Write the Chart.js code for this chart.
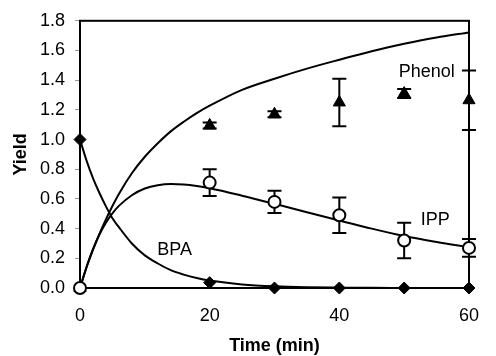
<!DOCTYPE html>
<html>
<head>
<meta charset="utf-8">
<script src="https://cdn.jsdelivr.net/npm/chart.js@4.4.0/dist/chart.umd.min.js"></script>
<style>
  html, body { margin: 0; padding: 0; background: #fff; }
  #wrap { width: 496px; height: 356px; }
</style>
</head>
<body>
<div id="wrap"><canvas id="c" width="496" height="356"></canvas></div>
<script>
// measured points
const timePts = [0, 20, 30, 40, 50, 60];
const bpaPts = [1.0, 0.036, 0.0, 0.0, 0.0, 0.0];
const ippPts = [0.0, 0.71, 0.58, 0.49, 0.32, 0.27];
const ippErr = [0, 0.09, 0.075, 0.12, 0.12, 0.06];
const phenolTime = [0, 20, 30, 40, 50, 60];
const phenolPts = [0.0, 1.095, 1.17, 1.25, 1.31, 1.265];
const phenolErr = [0, 0.02, 0.02, 0.16, 0.03, 0.2];

// fitted curves
const fitTime = [0, 1, 2, 3, 4, 5, 6, 8, 10, 12, 14, 16, 18, 20, 25, 30, 35, 40, 45, 50, 55, 60];
const bpaFit = [1.0, 0.86, 0.74, 0.64, 0.55, 0.47, 0.41, 0.30, 0.22, 0.165, 0.12, 0.09, 0.067, 0.05, 0.024, 0.011, 0.005, 0.0025, 0.001, 0.0005, 0, 0];
const ippFit = [0, 0.14, 0.262, 0.36, 0.44, 0.503, 0.553, 0.625, 0.67, 0.692, 0.70, 0.697, 0.687, 0.672, 0.622, 0.567, 0.51, 0.455, 0.40, 0.35, 0.31, 0.275];
const phenolFit = [0, 0.139, 0.256, 0.365, 0.462, 0.552, 0.634, 0.773, 0.884, 0.975, 1.055, 1.12, 1.178, 1.228, 1.335, 1.41, 1.478, 1.538, 1.595, 1.645, 1.688, 1.722];

const yTicks = [0, 0.2, 0.4, 0.6, 0.8, 1.0, 1.2, 1.4, 1.6, 1.8];
const xTicks = [0, 20, 40, 60];

const curveLabels = [
  { text: 'Phenol', x: 53.5, y: 1.457 },
  { text: 'IPP', x: 54.8, y: 0.457 },
  { text: 'BPA', x: 14.6, y: 0.255 }
];

function pts(xs, ys) {
  return xs.map((x, i) => ({ x: x, y: ys[i] }));
}

const FONT = 'Liberation Sans, Arial, Helvetica, sans-serif';

const extras = {
  id: 'extras',
  beforeDatasetsDraw(chart) {
    const ctx = chart.ctx;
    const a = chart.chartArea;
    const xs = chart.scales.x, ys = chart.scales.y;
    ctx.save();
    // frame on top/right
    ctx.strokeStyle = '#000';
    ctx.lineWidth = 2;
    ctx.strokeRect(a.left, a.top, a.right - a.left, a.bottom - a.top);
    // error bars
    const bars = (tt, vv, ee) => {
      tt.forEach((t, i) => {
        if (!ee[i]) return;
        const px = xs.getPixelForValue(t);
        const hi = ys.getPixelForValue(vv[i] + ee[i]);
        const lo = ys.getPixelForValue(vv[i] - ee[i]);
        ctx.beginPath();
        ctx.moveTo(px, hi); ctx.lineTo(px, lo);
        ctx.moveTo(px - 7, hi); ctx.lineTo(px + 7, hi);
        ctx.moveTo(px - 7, lo); ctx.lineTo(px + 7, lo);
        ctx.stroke();
      });
    };
    bars(timePts, ippPts, ippErr);
    bars(phenolTime, phenolPts, phenolErr);
    ctx.restore();
  },
  afterDatasetsDraw(chart) {
    const ctx = chart.ctx;
    const xs = chart.scales.x, ys = chart.scales.y;
    ctx.save();
    ctx.fillStyle = '#000';
    ctx.font = '18px ' + FONT;
    ctx.textAlign = 'center';
    ctx.textBaseline = 'middle';
    curveLabels.forEach(l => {
      ctx.fillText(l.text, xs.getPixelForValue(l.x), ys.getPixelForValue(l.y));
    });
    ctx.restore();
  }
};

new Chart(document.getElementById('c'), {
  type: 'scatter',
  data: {
    datasets: [
      {
        label: 'IPP',
        data: pts(timePts, ippPts),
        pointStyle: 'circle',
        pointRadius: 6,
        backgroundColor: '#fff',
        borderColor: '#000',
        borderWidth: 2,
        clip: false
      },
      {
        label: 'BPA',
        data: pts(timePts, bpaPts),
        pointStyle: 'rectRot',
        pointRadius: 6,
        backgroundColor: '#000',
        borderColor: '#000',
        borderWidth: 1,
        clip: false
      },
      {
        label: 'Phenol',
        data: pts(phenolTime, phenolPts),
        pointStyle: 'triangle',
        pointRadius: 7,
        backgroundColor: '#000',
        borderColor: '#000',
        borderWidth: 1,
        clip: false
      },
      {
        label: 'IPP fit',
        data: pts(fitTime, ippFit),
        showLine: true,
        pointRadius: 0,
        borderColor: '#000',
        borderWidth: 2,
        cubicInterpolationMode: 'monotone'
      },
      {
        label: 'BPA fit',
        data: pts(fitTime, bpaFit),
        showLine: true,
        pointRadius: 0,
        borderColor: '#000',
        borderWidth: 2,
        cubicInterpolationMode: 'monotone'
      },
      {
        label: 'Phenol fit',
        data: pts(fitTime, phenolFit),
        showLine: true,
        pointRadius: 0,
        borderColor: '#000',
        borderWidth: 2,
        cubicInterpolationMode: 'monotone'
      }
    ]
  },
  options: {
    responsive: false,
    animation: false,
    layout: { padding: { left: 0, right: 13, top: 20, bottom: 0 } },
    plugins: {
      legend: { display: false },
      tooltip: { enabled: false }
    },
    scales: {
      x: {
        type: 'linear',
        min: 0,
        max: 60,
        afterFit(s) { s.height = 68; },
        afterBuildTicks(s) { s.ticks = xTicks.map(v => ({ value: v })); },
        grid: { display: false, drawTicks: false },
        border: { display: true, color: '#000', width: 2 },
        ticks: { color: '#000', padding: 17, font: { family: FONT, size: 18 } },
        title: {
          display: true,
          text: 'Time (min)',
          color: '#000',
          padding: { top: 0, bottom: 1 },
          font: { family: FONT, size: 18, weight: 'bold', lineHeight: 1 }
        }
      },
      y: {
        min: 0,
        max: 1.8,
        afterFit(s) { s.width = 80; },
        afterBuildTicks(s) { s.ticks = yTicks.map(v => ({ value: v })); },
        grid: { drawOnChartArea: false, drawTicks: true, tickLength: 5, color: '#999' },
        border: { display: true, color: '#000', width: 2 },
        ticks: {
          color: '#000',
          padding: 10,
          font: { family: FONT, size: 18 },
          callback: v => v.toFixed(1)
        },
        title: {
          display: true,
          text: 'Yield',
          color: '#000',
          padding: { top: 10, bottom: 0 },
          font: { family: FONT, size: 18, weight: 'bold', lineHeight: 1.2 }
        }
      }
    }
  },
  plugins: [extras]
});
</script>
</body>
</html>
